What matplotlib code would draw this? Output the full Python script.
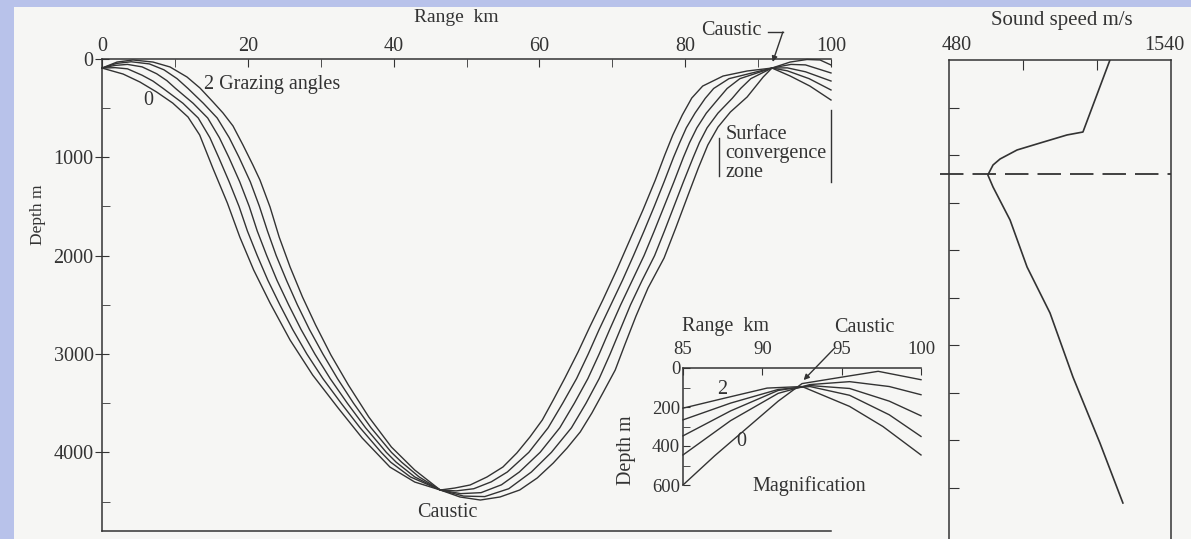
import matplotlib
matplotlib.use('Agg')
import matplotlib.pyplot as plt
from matplotlib.patches import Rectangle
import matplotlib.transforms as mtransforms

plt.rcParams['font.family'] = ['Liberation Serif', 'DejaVu Serif']

# ---------------- data ----------------
# Main ray diagram: range (km), depth (m) for rays with grazing angles 0 ... 2 deg
ray0_range = [0, 2.9, 5.2, 7.5, 9.7, 11.8, 13.4, 15.2, 17.2, 18.9, 20.8, 23.05, 25.8, 28.9, 32.4, 35.7, 39.5, 42.9, 46.4,
              49.1, 51.9, 54.6, 57.3, 59.7, 61.9, 63.8, 65.6, 67.2, 68.7, 70.4, 71.7, 73.25, 74.9, 77.1, 78.7, 80.4, 81.8,
              83.1, 84.5, 86.2, 88.5, 90.7, 91.9, 94.4, 96.7, 98.5, 100]
ray0_depth = [92, 153, 234, 336, 448, 590, 773, 1109, 1465, 1810, 2145, 2481, 2858, 3214, 3550, 3855, 4150, 4302, 4383,
              4454, 4485, 4454, 4383, 4261, 4109, 3956, 3793, 3600, 3397, 3163, 2909, 2614, 2329, 2024, 1719, 1383, 1109,
              875, 692, 539, 386, 183, 92, 31, 5, 10, 61]

ray05_range = [0, 1.8, 3.5, 5.5, 7.0, 8.4, 11.1, 13.2, 14.8, 16.0, 17.45, 18.8, 19.95, 21.3, 22.75, 24.4, 26.15, 28.1, 30.3,
               32.8, 35.4, 38.3, 39.6, 42.3, 46.4, 49.6, 52.5, 55.8, 58.9, 61.65, 64.4, 66.4, 68.2, 69.7, 71.1, 72.5,
               74.1, 75.8, 77.15, 78.45, 79.75, 81.1, 81.95, 83.0, 84.5, 86.45, 87.6, 89.0, 91.9, 94.5, 96.5, 100]
ray05_depth = [92, 88, 100, 165, 225, 300, 450, 600, 800, 1000, 1250, 1500, 1750, 2000, 2250, 2500, 2750, 3000, 3250,
               3500, 3750, 4000, 4100, 4250, 4383, 4445, 4450, 4370, 4200, 4000, 3750, 3500, 3250, 3000, 2750, 2500,
               2250, 2000, 1750, 1500, 1250, 1000, 850, 700, 550, 400, 300, 200, 92, 55, 60, 142]

ray1_range = [0, 1.8, 3.5, 5.5, 7.5, 8.9, 10.1, 12.5, 14.5, 16.1, 17.4, 18.9, 20.2, 21.3, 22.6, 24.0, 25.6, 27.3, 29.2,
              31.3, 33.65, 36.15, 39.0, 40.35, 42.9, 46.4, 49.2, 52.0, 54.8, 57.25, 60.1, 62.8, 64.8, 66.65, 68.2, 69.65,
              71.15, 72.75, 74.35, 75.75, 77.1, 78.45, 79.75, 80.6, 81.6, 82.9, 84.6, 85.75, 87.5, 91.9, 94.0, 96.5, 100]
ray1_depth = [92, 65, 55, 80, 150, 220, 300, 450, 600, 800, 1000, 1250, 1500, 1750, 2000, 2250, 2500, 2750, 3000,
              3250, 3500, 3750, 4000, 4100, 4250, 4383, 4420, 4410, 4330, 4200, 4000, 3750, 3500, 3250, 3000, 2750,
              2500, 2250, 2000, 1750, 1500, 1250, 1000, 850, 700, 550, 400, 300, 200, 92, 90, 130, 224]

ray15_range = [0, 2.0, 4.0, 6.5, 8.5, 10.3, 11.8, 13.9, 15.8, 17.45, 18.8, 20.35, 21.6, 22.7, 23.9, 25.3, 26.8, 28.45,
               30.3, 32.3, 34.5, 36.9, 39.7, 41.1, 43.5, 46.4, 48.6, 51.0, 53.4, 55.6, 58.55, 61.2, 63.2, 65.1, 66.7,
               68.2, 69.8, 71.4, 72.9, 74.35, 75.75, 77.1, 78.4, 79.25, 80.15, 81.35, 82.75, 83.9, 86.0, 91.9, 94.0,
               97.0, 100]
ray15_depth = [92, 45, 28, 50, 110, 200, 300, 450, 600, 800, 1000, 1250, 1500, 1750, 2000, 2250, 2500, 2750,
               3000, 3250, 3500, 3750, 4000, 4100, 4250, 4383, 4392, 4370, 4300, 4200, 4000, 3750, 3500, 3250, 3000,
               2750, 2500, 2250, 2000, 1750, 1500, 1250, 1000, 850, 700, 550, 400, 300, 200, 92, 120, 200, 315]

ray2_range = [0, 2.06, 4.25, 7.0, 9.33, 11.66, 13.44, 15.23, 16.6, 17.97, 19.34, 20.7, 21.67, 23.05, 24.3, 25.8, 27.5,
              29.3, 31.4, 33.8, 36.6, 39.7, 42.9, 46.4, 48.4, 50.5, 52.8, 55.0, 56.9, 58.7, 60.4, 61.9, 63.5, 65.3,
              66.9, 68.7, 70.6, 72.4, 74.2, 75.9, 77.2, 78.3, 79.6, 80.9, 82.4, 85.2, 88.5, 91.9, 94.4, 97.1, 100]
ray2_depth = [92, 31, 10, 31, 81, 183, 295, 437, 549, 681, 875, 1078, 1231, 1505, 1810, 2115, 2420,
              2705, 3010, 3316, 3641, 3946, 4180, 4383, 4363, 4332, 4251, 4149, 4007, 3844, 3671, 3468, 3244, 2980,
              2726, 2451, 2146, 1841, 1536, 1231, 976, 773, 570, 397, 275, 173, 122, 92, 173, 275, 417]

# Magnified inset (85-100 km, 0-600 m)
in0_range = [85, 87, 89, 91, 92.5, 95.3, 97.3, 100]
in0_depth = [600, 450, 310, 170, 80, 43, 17, 60]
in05_range = [85, 88, 91, 93, 95.5, 98, 100]
in05_depth = [446, 270, 130, 85, 70, 95, 137]
in1_range = [85, 88, 91, 93, 95.5, 98, 100]
in1_depth = [348, 220, 115, 90, 105, 170, 245]
in15_range = [85, 88, 91, 93, 95.5, 98, 100]
in15_depth = [266, 180, 110, 95, 140, 240, 351]
in2_range = [85, 87.6, 90.3, 92.5, 95.5, 97.6, 100]
in2_depth = [206, 155, 103, 95, 197, 300, 446]

# Sound speed profile
ss_depth = [0, 758, 789, 874, 947, 1042, 1105, 1210, 1337, 1684, 2179, 2663, 3337, 4032, 4663]
ss_speed = [1523.5, 1516.2, 1511.9, 1504.6, 1498.4, 1493.8, 1491.9, 1490.5, 1491.9, 1496.5, 1501.1, 1507.3,
            1513.5, 1520.8, 1527.0]
sound_axis_depth = 1200

main_xticks = [0, 20, 40, 60, 80, 100]
main_yticks = [0, 1000, 2000, 3000, 4000]
inset_xticks = [85, 90, 95, 100]
inset_yticks = [0, 200, 400, 600]

# ---------------- figure ----------------
W, H = 1191, 539
fig = plt.figure(figsize=(W / 100, H / 100), dpi=100)
fig.patch.set_facecolor('#b8c2ea')
fig.add_artist(Rectangle((14 / W, 0), 1 - 14 / W, (H - 7) / H, transform=fig.transFigure,
                         facecolor='#f6f6f4', edgecolor='none', zorder=0))

def ax_rect(x0, y0, x1, y1):
    return [x0 / W, 1 - y1 / H, (x1 - x0) / W, (y1 - y0) / H]

INK = '#333333'
LW = 1.0
FS = 14.5
FSI = 13.5

# ---- main axes ----
ax = fig.add_axes(ax_rect(102, 59, 831, 531))
ax.set_facecolor('none')
ax.set_xlim(0, 100)
ax.set_ylim(4800, 0)
for xs, ys in [(ray0_range, ray0_depth), (ray05_range, ray05_depth), (ray1_range, ray1_depth),
               (ray15_range, ray15_depth), (ray2_range, ray2_depth)]:
    ax.plot(xs, ys, color=INK, lw=LW, clip_on=False)
ax.spines['right'].set_visible(False)
for s in ['left', 'top', 'bottom']:
    ax.spines[s].set_color(INK)
    ax.spines[s].set_linewidth(1.1)
ax.xaxis.tick_top()
ax.set_xticks(main_xticks)
ax.set_xticks([10, 30, 50, 70, 90], minor=True)
ax.tick_params(axis='x', which='both', direction='in', length=6, top=True, bottom=False,
               labeltop=True, labelbottom=False, labelsize=FS, pad=2, color=INK, labelcolor=INK)
ax.set_yticks(main_yticks)
ax.set_yticks([500, 1500, 2500, 3500, 4500], minor=True)
ax.tick_params(axis='y', which='major', direction='inout', length=10, labelsize=FS, pad=1,
               color=INK, labelcolor=INK)
ax.tick_params(axis='y', which='minor', direction='in', length=6, color=INK)

fig.text(456 / W, 1 - 18 / H, 'Range  km', ha='center', va='center', fontsize=14, color=INK)
fig.text(38 / W, 1 - 215 / H, 'Depth m', ha='center', va='center', rotation=90, fontsize=12.5, color=INK)
ax.text(14.0, 264, '2 Grazing angles', ha='left', va='center', fontsize=FS, color=INK)
ax.text(6.3, 417, '0', ha='center', va='center', fontsize=FS, color=INK)
ax.text(47.3, 4607, 'Caustic', ha='center', va='center', fontsize=FS, color=INK)
ax.text(86.3, -290, 'Caustic', ha='center', va='center', fontsize=FS, color=INK, clip_on=False)
ax.plot([91.4, 93.4], [-275, -275], color=INK, lw=1.0, clip_on=False)
ax.annotate('', xy=(92.0, 30), xytext=(93.4, -275), annotation_clip=False,
            arrowprops=dict(arrowstyle='-|>', color=INK, lw=1.0, mutation_scale=8, shrinkA=0, shrinkB=0))
ax.text(85.5, 960, 'Surface\nconvergence\nzone', ha='left', va='center', fontsize=FS, color=INK,
        linespacing=1.0)
ax.plot([84.6, 84.6], [803, 1190], color=INK, lw=1.0, clip_on=False)
ax.plot([100, 100], [519, 1251], color=INK, lw=1.0, clip_on=False)

# ---- inset ----
ai = fig.add_axes(ax_rect(683, 368, 921, 485))
ai.set_facecolor('none')
ai.set_xlim(85, 100)
ai.set_ylim(600, 0)
for xs, ys in [(in0_range, in0_depth), (in05_range, in05_depth), (in1_range, in1_depth),
               (in15_range, in15_depth), (in2_range, in2_depth)]:
    ai.plot(xs, ys, color=INK, lw=LW, clip_on=False)
ai.spines['right'].set_visible(False)
ai.spines['bottom'].set_visible(False)
for s in ['left', 'top']:
    ai.spines[s].set_color(INK)
    ai.spines[s].set_linewidth(1.1)
ai.xaxis.tick_top()
ai.set_xticks(inset_xticks)
ai.tick_params(axis='x', direction='in', length=5, top=True, bottom=False, labeltop=True,
               labelbottom=False, labelsize=FSI, pad=7, color=INK, labelcolor=INK)
ai.set_yticks(inset_yticks)
ai.set_yticks([100, 300, 500], minor=True)
ai.tick_params(axis='y', which='both', direction='in', length=5, labelsize=FSI, pad=2,
               color=INK, labelcolor=INK)
ai.text(87.5, 108, '2', ha='center', va='center', fontsize=FS, color=INK)
ai.text(88.7, 379, '0', ha='center', va='center', fontsize=FS, color=INK)
fig.text(725 / W, 1 - 327 / H, 'Range  km', ha='center', va='center', fontsize=FS, color=INK)
fig.text(809 / W, 1 - 486 / H, 'Magnification', ha='center', va='center', fontsize=FS, color=INK)
fig.text(626 / W, 1 - 450 / H, 'Depth m', ha='center', va='center', rotation=90, fontsize=FS, color=INK)
ai.annotate('Caustic', xy=(92.6, 62), xytext=(96.4, -210), textcoords='data', annotation_clip=False,
            ha='center', va='center', fontsize=FS, color=INK,
            arrowprops=dict(arrowstyle='-|>', color=INK, lw=1.0, mutation_scale=8, shrinkA=9, shrinkB=0,
                            relpos=(0.2, 0.0)))

# ---- sound speed panel ----
asd = fig.add_axes(ax_rect(949, 60, 1171, 539))
asd.set_facecolor('none')
asd.set_xlim(1480, 1540)
asd.set_ylim(5042, 0)
asd.plot(ss_speed, ss_depth, color=INK, lw=1.2)
asd.plot([1477.6, 1540], [sound_axis_depth, sound_axis_depth], color=INK, lw=1.3,
         linestyle=(0, (13, 5)), clip_on=False)
asd.spines['bottom'].set_visible(False)
for s in ['left', 'top', 'right']:
    asd.spines[s].set_color(INK)
    asd.spines[s].set_linewidth(1.1)
asd.xaxis.tick_top()
asd.set_xticks([1500, 1520])
asd.set_xticklabels([])
asd.tick_params(axis='x', direction='in', length=7, top=True, bottom=False, color=INK)
asd.set_yticks([500, 1000, 1500, 2000, 2500, 3000, 3500, 4000, 4500])
asd.set_yticklabels([])
asd.tick_params(axis='y', direction='in', length=7, left=True, right=False, color=INK)
tr = mtransforms.blended_transform_factory(asd.transData, asd.transAxes)
asd.text(1482.2, 1.031, '480', transform=tr, ha='center', va='center', fontsize=FS, color=INK)
asd.text(1538.1, 1.031, '1540', transform=tr, ha='center', va='center', fontsize=FS, color=INK)
fig.text(1062 / W, 1 - 21 / H, 'Sound speed m/s', ha='center', va='center', fontsize=15, color=INK)

fig.savefig('out.png', dpi=100, facecolor=fig.get_facecolor())
